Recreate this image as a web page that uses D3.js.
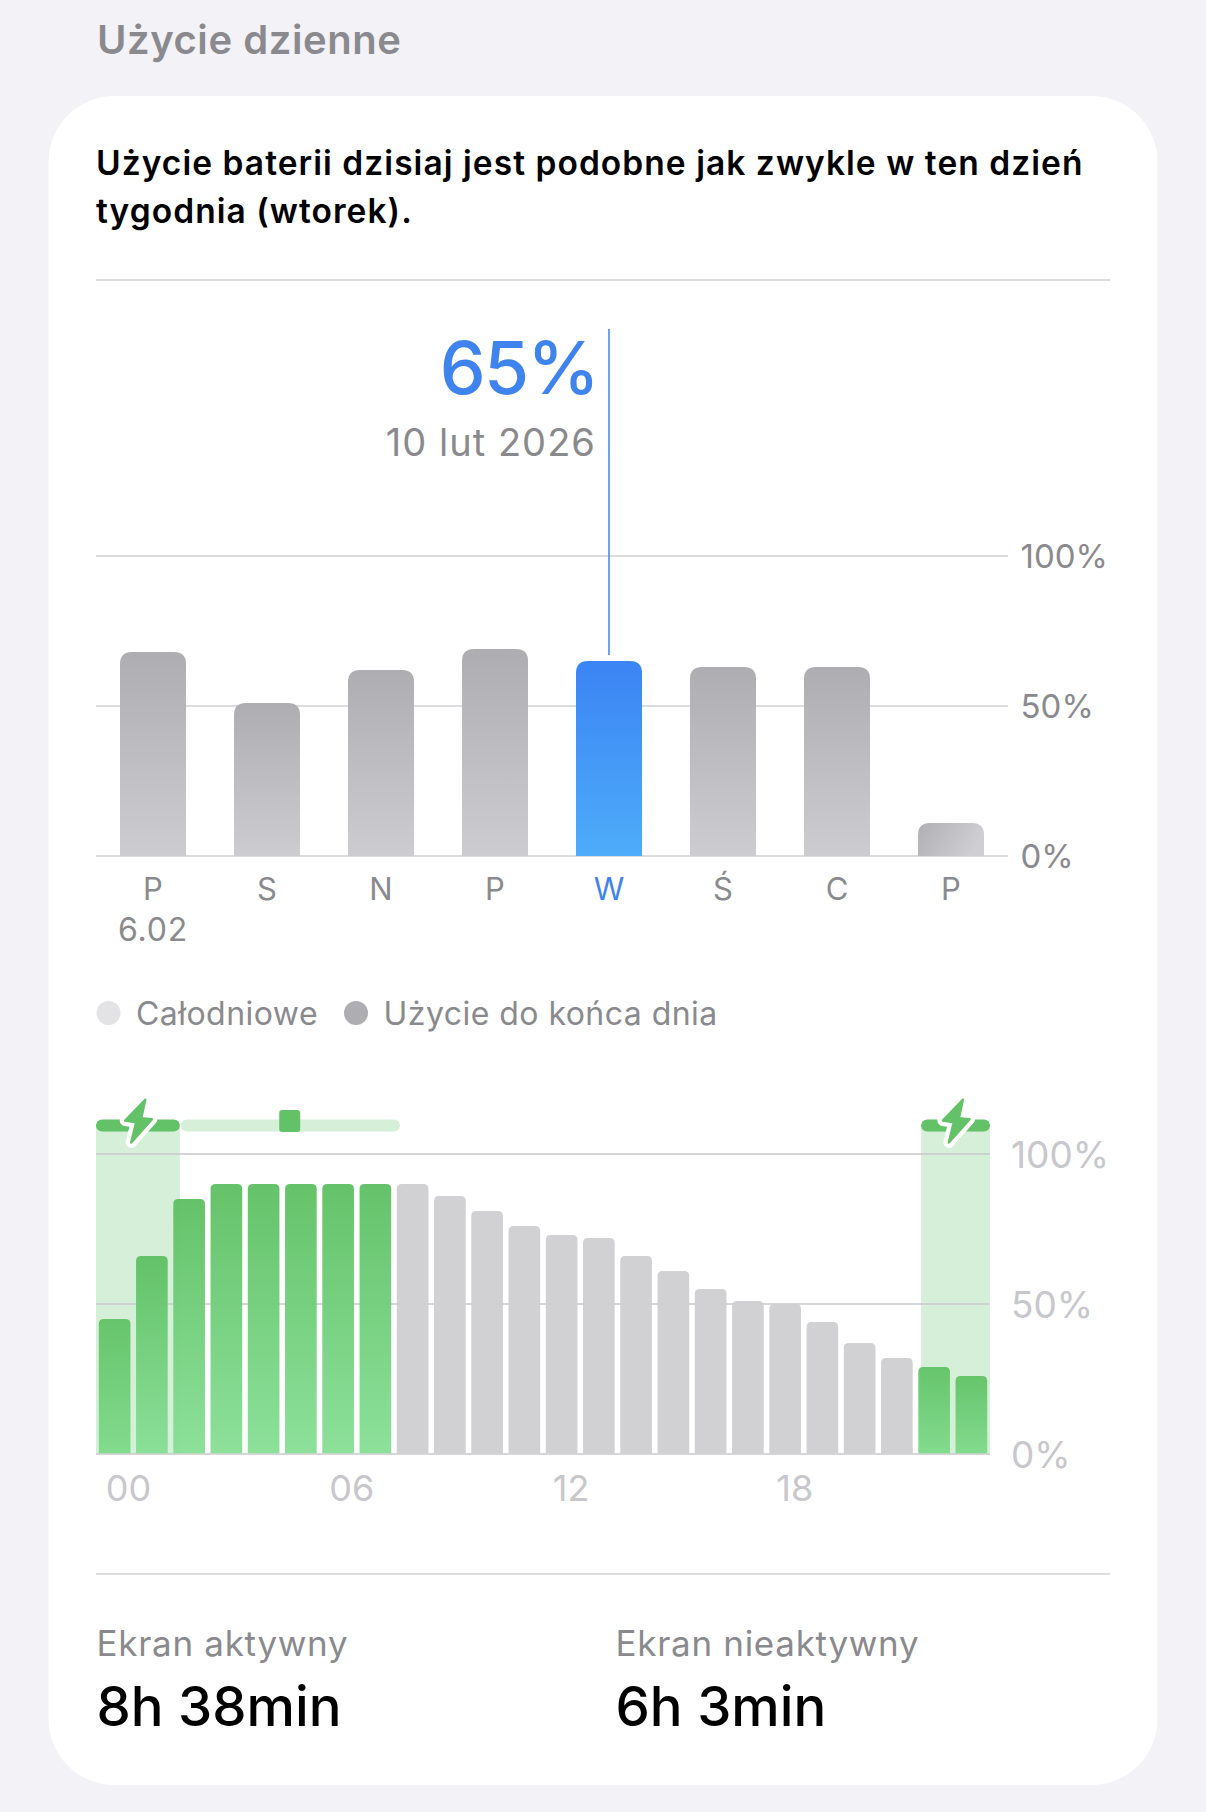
<!DOCTYPE html>
<html lang="pl">
<head>
<meta charset="utf-8">
<title>Użycie dzienne</title>
<script src="https://cdn.jsdelivr.net/npm/d3@7/dist/d3.min.js"></script>
<style>
  html, body { margin: 0; padding: 0; background: #f2f2f7; }
  svg { display: block; font-family: Inter, "Noto Sans", sans-serif; }
</style>
</head>
<body>
<svg id="chart" width="1206" height="1812"></svg>
<script>
// Daily battery usage
const dayLabels = ["P", "S", "N", "P", "W", "Ś", "C", "P"];
const dayValues = [68, 51, 62, 69, 65, 63, 63, 11];
const selectedDay = 4;
const selectedValue = "65%";
const selectedDate = "10 lut 2026";
const firstDate = "6.02";

// Battery level per hour
const hours = d3.range(24);
const hourValues = [45, 66, 85, 90, 90, 90, 90, 90, 90, 86, 81, 76, 73, 72, 66, 61, 55, 51, 50, 44, 37, 32, 29, 26];
const chargingHours = [0, 1, 2, 3, 4, 5, 6, 7, 22, 23];
const hourTicks = [0, 6, 12, 18];
const chargingWindows = [[0, 2.25], [22.15, 24]];
const trickleWindow = [2.28, 8.16];
const trickleMarker = 5.2;

const percentTicks = [0, 50, 100];
const legendItems = ["Całodniowe", "Użycie do końca dnia"];

const svg = d3.select("#chart");
const defs = svg.append("defs");

function gradient(id, top, bottom) {
  const g = defs.append("linearGradient").attr("id", id)
    .attr("x1", 0).attr("y1", 0).attr("x2", 0).attr("y2", 1);
  g.append("stop").attr("offset", 0).attr("stop-color", top);
  g.append("stop").attr("offset", 1).attr("stop-color", bottom);
}
gradient("barGray", "#aeaeb2", "#cdcdd1");
gradient("barBlue", "#3b84f4", "#4eacf9");
gradient("barGreen", "#5fc064", "#88df96");
gradient("barGreenShort", "#62c367", "#7fda8b");
const shortGray = defs.append("linearGradient").attr("id", "barGrayShort")
  .attr("x1", 0).attr("y1", 0).attr("x2", 1).attr("y2", 0.3);
shortGray.append("stop").attr("offset", 0).attr("stop-color", "#b0b0b4");
shortGray.append("stop").attr("offset", 1).attr("stop-color", "#cfcfd3");

// Bar outline with rounded top corners only
function topRounded(x, w, yTop, yBase, r) {
  return `M${x},${yBase}V${yTop + r}Q${x},${yTop} ${x + r},${yTop}H${x + w - r}Q${x + w},${yTop} ${x + w},${yTop + r}V${yBase}Z`;
}

// Card and static text
svg.append("rect").attr("x", 48.5).attr("y", 96).attr("width", 1109).attr("height", 1689)
  .attr("rx", 66).attr("fill", "#ffffff");

svg.append("text").attr("x", 97).attr("y", 54)
  .attr("font-size", 40).attr("letter-spacing", 0.55)
  .attr("font-weight", 600).attr("fill", "#8a8a8e").text("Użycie dzienne");

const intro = ["Użycie baterii dzisiaj jest podobne jak zwykle w ten dzień", "tygodnia (wtorek)."];
svg.selectAll(".intro").data(intro).join("text").attr("class", "intro")
  .attr("x", 96).attr("y", (d, i) => 175 + i * 48)
  .attr("font-size", 33.5).attr("letter-spacing", 1.05)
  .attr("font-weight", 600).attr("fill", "#000").text(d => d);

svg.selectAll(".sep").data([280, 1574]).join("line").attr("class", "sep")
  .attr("x1", 96).attr("x2", 1110).attr("y1", d => d).attr("y2", d => d)
  .attr("stroke", "#d1d1d4").attr("stroke-width", 1.3);

// Weekly chart
const xDay = d3.scaleBand().domain(d3.range(dayLabels.length)).range([96, 1008])
  .paddingInner(0.421).paddingOuter(0.2105);
const yDay = d3.scaleLinear().domain([0, 100]).range([856, 556]);

const dayAxis = svg.append("g").attr("transform", "translate(1008,0)")
  .call(d3.axisRight(yDay).tickValues(percentTicks).tickSize(0).tickPadding(12.5).tickFormat(d => d + "%"));
dayAxis.select(".domain").remove();
dayAxis.selectAll("text").attr("font-family", "Inter").attr("font-size", 33).attr("fill", "#8a8a8e")
  .attr("dy", "0.36em");

svg.selectAll(".dayGrid").data(percentTicks).join("line").attr("class", "dayGrid")
  .attr("x1", 96).attr("x2", 1008).attr("y1", d => yDay(d)).attr("y2", d => yDay(d))
  .attr("stroke", "#d0d0d3").attr("stroke-width", 1.5);

svg.selectAll(".dayBar").data(dayValues).join("path").attr("class", "dayBar")
  .attr("d", (d, i) => topRounded(xDay(i), xDay.bandwidth(), yDay(d), yDay(0), 12))
  .attr("fill", (d, i) => i === selectedDay ? "url(#barBlue)" : d < 20 ? "url(#barGrayShort)" : "url(#barGray)");

const xSel = xDay(selectedDay) + xDay.bandwidth() / 2;
svg.append("line").attr("x1", xSel).attr("x2", xSel).attr("y1", 329)
  .attr("y2", yDay(dayValues[selectedDay]) - 6)
  .attr("stroke", "#5f9ae9").attr("stroke-width", 1.8);

svg.append("text").attr("x", 598).attr("y", 394).attr("text-anchor", "end")
  .attr("font-size", 73).attr("letter-spacing", -1.8).attr("font-weight", 500)
  .attr("fill", "#3f84ee").text(selectedValue);
svg.append("text").attr("x", 596).attr("y", 456).attr("text-anchor", "end")
  .attr("font-size", 38).attr("letter-spacing", 1.05).attr("fill", "#8a8a8e").text(selectedDate);

svg.selectAll(".dayLabel").data(dayLabels).join("text").attr("class", "dayLabel")
  .attr("x", (d, i) => xDay(i) + xDay.bandwidth() / 2).attr("y", 900)
  .attr("text-anchor", "middle").attr("font-size", 31)
  .attr("fill", (d, i) => i === selectedDay ? "#3f84ee" : "#8a8a8e").text(d => d);
svg.append("text").attr("x", xDay(0) + xDay.bandwidth() / 2).attr("y", 941)
  .attr("text-anchor", "middle").attr("font-size", 32).attr("letter-spacing", 0.8)
  .attr("fill", "#8a8a8e").text(firstDate);

// Legend
const legendX = [[108.5, 136], [356, 383.5]];
const legendFill = ["#e3e3e5", "#aeaeb2"];
legendItems.forEach((label, i) => {
  svg.append("circle").attr("cx", legendX[i][0]).attr("cy", 1013).attr("r", 12).attr("fill", legendFill[i]);
  svg.append("text").attr("x", legendX[i][1]).attr("y", 1025)
    .attr("font-size", 32).attr("letter-spacing", 0.46).attr("fill", "#8a8a8e").text(label);
});

// Hourly chart
const xHour = d3.scaleBand().domain(hours).range([96, 990]).paddingInner(0.15).paddingOuter(0.075);
const xTime = d3.scaleLinear().domain([0, 24]).range([96, 990]);
const yHour = d3.scaleLinear().domain([0, 100]).range([1454, 1154]);

const hourAxis = svg.append("g").attr("transform", "translate(990,0)")
  .call(d3.axisRight(yHour).tickValues(percentTicks).tickSize(0).tickPadding(21).tickFormat(d => d + "%"));
hourAxis.select(".domain").remove();
hourAxis.selectAll("text").attr("font-family", "Inter").attr("font-size", 37).attr("fill", "#c7c7cc")
  .attr("dy", "0.36em");

svg.selectAll(".window").data(chargingWindows).join("rect").attr("class", "window")
  .attr("x", d => xTime(d[0])).attr("width", d => xTime(d[1]) - xTime(d[0]))
  .attr("y", 1124).attr("height", yHour(0) - 1124).attr("fill", "#d5efd9");

svg.selectAll(".hourGrid").data(percentTicks).join("line").attr("class", "hourGrid")
  .attr("x1", 96).attr("x2", 990).attr("y1", d => yHour(d)).attr("y2", d => yHour(d))
  .attr("stroke", "#c9c9cb").attr("stroke-width", 1.5);

svg.selectAll(".hourBar").data(hourValues).join("path").attr("class", "hourBar")
  .attr("d", (d, i) => topRounded(xHour(i), xHour.bandwidth(), yHour(d), yHour(0) - 0.7, 5))
  .attr("fill", (d, i) => chargingHours.includes(i)
    ? (d < 50 ? "url(#barGreenShort)" : "url(#barGreen)") : "#cfcfd2")
  .attr("fill-opacity", 0.96);

// Charging strip across the top of the hourly chart
svg.append("rect").attr("x", xTime(trickleWindow[0])).attr("width", xTime(trickleWindow[1]) - xTime(trickleWindow[0]))
  .attr("y", 1119.5).attr("height", 12).attr("rx", 6).attr("fill", "#d5efd9");
svg.selectAll(".cap").data(chargingWindows).join("rect").attr("class", "cap")
  .attr("x", d => xTime(d[0])).attr("width", d => xTime(d[1]) - xTime(d[0]))
  .attr("y", 1119.5).attr("height", 12).attr("rx", 6).attr("fill", "#63c267");
svg.append("rect").attr("x", xTime(trickleMarker) - 10.5).attr("width", 21)
  .attr("y", 1110).attr("height", 22).attr("rx", 3).attr("fill", "#63c267");

// Lightning glyph with a white halo over each charging cap
const bolt = "M7.3,-21.7L-12.7,-1L-1.7,0.7L-6.7,21L14,-2.3L3.3,-3.3Z";
const boltPos = d => `translate(${(xTime(d[0]) + xTime(d[1])) / 2},1121.5)`;
svg.selectAll(".boltHalo").data(chargingWindows).join("path").attr("class", "boltHalo")
  .attr("transform", boltPos).attr("d", bolt).attr("fill", "#fff")
  .attr("stroke", "#fff").attr("stroke-width", 11).attr("stroke-linejoin", "round");
svg.selectAll(".bolt").data(chargingWindows).join("path").attr("class", "bolt")
  .attr("transform", boltPos).attr("d", bolt).attr("fill", "#63c267")
  .attr("stroke", "#63c267").attr("stroke-width", 2.5).attr("stroke-linejoin", "round");

svg.selectAll(".hourTick").data(hourTicks).join("text").attr("class", "hourTick")
  .attr("x", d => xHour(d) + 7)
  .attr("y", 1501).attr("font-size", 36).attr("fill", "#c7c7cc")
  .text(d => String(d).padStart(2, "0"));

// Screen-time summary
const summaryX = [96.5, 615.5];
const summaryLabels = ["Ekran aktywny", "Ekran nieaktywny"];
const summaryValues = ["8h 38min", "6h 3min"];
svg.selectAll(".sumLabel").data(summaryLabels).join("text").attr("class", "sumLabel")
  .attr("x", (d, i) => summaryX[i]).attr("y", 1656)
  .attr("font-size", 35).attr("letter-spacing", 0.7).attr("fill", "#8a8a8e").text(d => d);
svg.selectAll(".sumValue").data(summaryValues).join("text").attr("class", "sumValue")
  .attr("x", (d, i) => summaryX[i]).attr("y", 1726)
  .attr("font-size", 54.5).attr("font-weight", 500).attr("fill", "#000").text(d => d);
</script>
</body>
</html>
